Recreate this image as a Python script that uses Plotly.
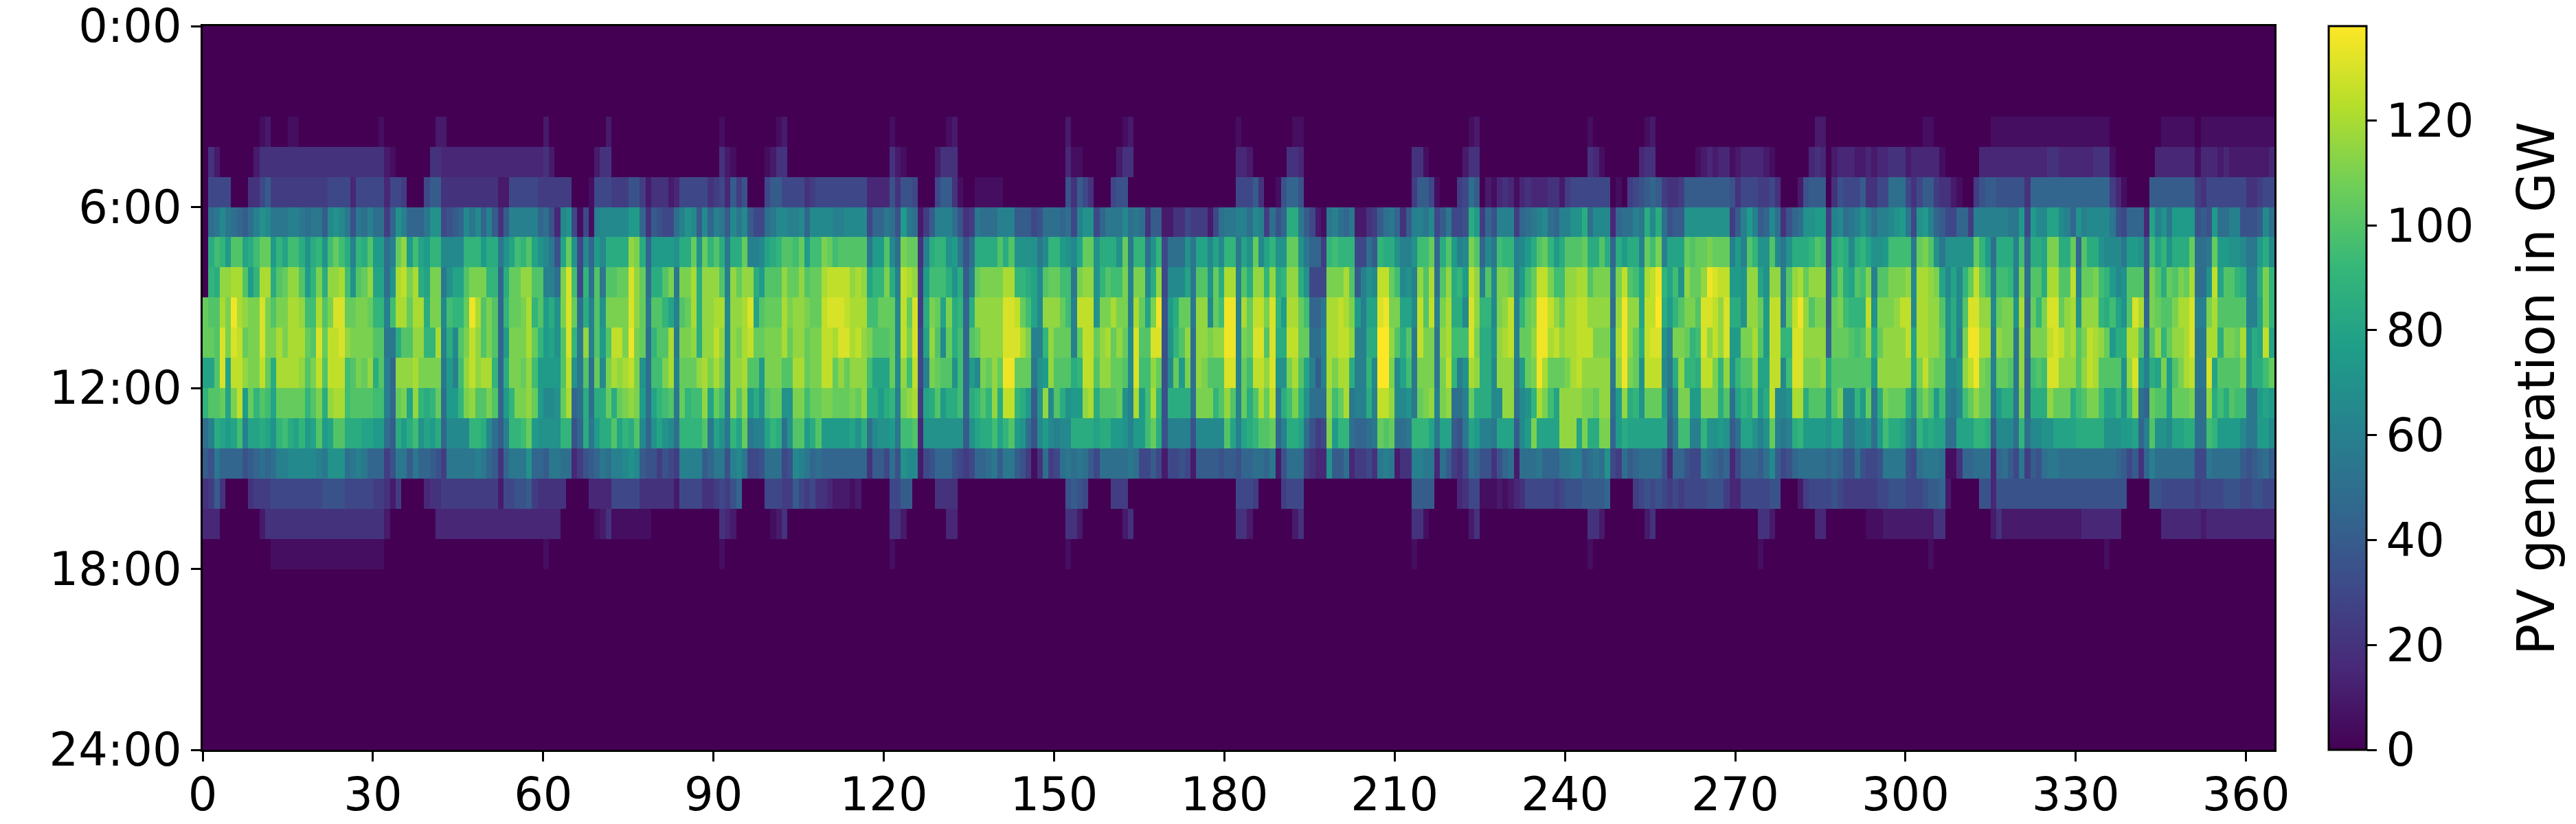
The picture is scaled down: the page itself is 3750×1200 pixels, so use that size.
import plotly.graph_objects as go

# Each character is one day, in steps of 5 GW: 0=0, 1=5 ... 9=45, a=50 ... s=140
LEVELS = "0123456789abcdefghijklmnopqrs"

hour_03 = ("0000000000 1200011000 0000000000 0100000000 0220000000 0000000000 2000000000 0200000000 0000000000 "
           "0100000000 0120000000 0000000000 0100000000 0120000000 0000000000 0020000000 0012000000 0000000000 "
           "0010000000 0011000000 0000000000 0000000000 0001200000 0000000000 0000100000 0000120000 0000000000 "
           "0000000000 0000220000 0000000000 0001100000 0000011111 1111111111 1111110000 0000011111 1011111111 11111")
hour_04 = ("0420000002 4444444444 4444444444 4421000000 4433333333 3333333333 4200000002 4400000000 0000000000 "
           "0421000001 2440000000 0000000000 0421000002 4440000000 0000000000 0031100000 0244000000 0000000000 "
           "0033200000 0443000000 0000000000 0004410000 0024400000 0000000000 0000431000 0003440000 0001232331 "
           "2333321000 0003430233 3223233444 2333331000 0003333333 3333344333 3334441000 0000333333 3133323222 22223")
hour_05 = ("0666600044 6855555555 5566663666 6636650006 8844444444 4422666665 5555500016 6655577524 4423666664 "
           "5638570006 8866664566 6666666333 3747760006 8841001111 1000000000 0074864000 6770000000 0000000000 "
           "0066684001 7997000000 0000000000 0005886100 056a802134 3134333442 5666666601 0567898544 5888888887 "
           "4666556400 0278880476 6684466aaa 6468854421 0057887777 7499999999 9999995310 0008888888 8546666666 44566")
hour_06 = ("0abdba98ac edbbbccbab b8dedb7bac aa59ec999b ee6789dbd9 c848ccccc9 a73de6161c dddddff948 766aced8d9 "
           "cb8dbd866a bddccd9ddd dccdddd699 ba7fba258c cca745baaa ccc88867aa a9a6cee69b bbdaba4882 244655526a "
           "bbccadc5a7 9hhb8621bc a9b22458ab 948ccbd68b 667hf597cc c59abcda9c ceehaddd39 aacbhdha78 8eeeeeeee5 "
           "8cfc89da47 9aeeff5cda bcecaccdef b6efc98669 95ccccccbb f6fddggdc9 ecddddb769 993gcebfff f787faacc7 778da")
hour_07 = ("0hjifkkghj llfigjjheh iejljhcihk ffaclnfjgf iiddddiiif hhbegjikge db7gle6d9f dhhhhnmh9f fffehhleli "
           "khbhhlccdg hikkjlfjjm ljkkkkkbff kdamll4chi iefb7ahhhh khkeeeebdi ifedgllehh helbiiaei6 aaaebggdgd "
           "iibgeldgie elleb995ij iii66a8ihh eccejjl9hk fcdmk9dbji icdfhklifh kkklhhkh9h fhhcljmcgg glkllmlllc "
           "fckieekdbe hhhikj6hih dhigeefjjj jblmkebeee eelifahhhc j9hhgmmhhl 9khhedddbf fe8jgiehhh laablffeed bbfhd")
hour_08 = ("0ihnnookfi oohklnnkfi mhnnojekln ggaeopmohg mmbeggkmmm ii9hllnnkk ccamqj6iak bkkllqnlah hkmbmmohnn "
           "nkcnlnnhfk kknllnkllo ppppnongii mhcpon5fjj jheh8clmmm mooiihgdkl ljjbmnneik jjmcmmdhn6 dddgbkkelh "
           "oockhnninh innhe666mm mok8cedppl jdecnkoakn hifpnckdmm lcfjlppmjj nnookmmmbm pkjgoprigj enllnrqppf "
           "fenngennck nolnnn8ilh gkjmckkmmm ndoonmgdgd ilpljcjjic makkhookkp cllmjifdek kk8mkhlkml oaaepgkkih cchmi")
hour_09 = ("lkkomronmm qmkmmoonjj okmqqllmml iicjoolooh mmdjiilrok mk9illmoik fhemqlahck emmmmqnlbk kigcklohnn "
           "oodnnoqgkl llomnnmllp qqqpooojjl lldplq5hml gmhi9hnnnn nqqpljgdnn nljcpppemm ommcolgmr7 fhllbnndlj "
           "rrcolppmqi foolj99boo pomfcggqrm mggdpkpcmo hhdqniidmn pcilmrrpnl ooppnnnnan rnngppshfi kmmkqqpnqh "
           "hennlfppcl prnkmm8lmj iiipemmmnp pdoonnkehd kqqnndlmme o9limqqlno ennnihjgek qo9mlkkmoo qccmokkkkk ccgmi")
hour_10 = ("llkqmqplmm qmmomooolk qlppqnmmmm kkbbhkknni iochdkmpnk mk9fmmmoli fgekqibnck fkppmrmlai kkobmmnhnn "
           "pndnmopllm mmolnnlmmp poqqopnmkk kldpmq6gnk dlhj9klnnn nqqqomccin lllclpplno lnldqkkqq7 eiknannmnn "
           "rrcmlqqkqh hppllaacoo ppncchhssn khkbpmmbno jjjqmhheno pcllnrropn oopppmmmco rnlhpqqecm mlijqnpnqf "
           "fmmokfppii qqnnnn9lll kjknhlnnnn pgoonnlehc mrroocnmmb nammmpqpno kmponlfhho okbknilnno qbboohmmlo ehgpg")
hour_11 = ("ggkqgppnmm plhoooonkm pkpppjkmln hkc9nnnomm mmbfcjnpno oi9hmmlnjf fffkpebkal dmonopmeaj jmoclllnom "
           "omdnnokkfm mmkkoolmmp plnlnnnjgg gldnjp6cml kkej9fdmln lrrlllbefn kkkhippknn llkdqjjnl7 dlfmanmkkk "
           "qqcljppnqe emokgc8com oohccidssm dgjbmmmbmp iceonhhdnn nbflmrolll mopnnnnnbn rmlepppdbh niihppmine "
           "ikknggppdj qqmmmnhkkk kkkkfnnnnn ngmpmlldde nprmlcllkb n9jkjqqnnn knpokkkken qfchgmfkmo pbbqgkkkkm ehhjl")
hour_12 = ("ikklgmpfli kjglllllik mhnoojkkkk jjc9lmgnih ilaffimnkk mk9fimmnlf ddelo9ahah hlhlmnmfag ijkblijjng "
           "ljcnknfhek lleemmjllm mlllmlnhhf hicmno5ghk fhhj9hikin hppihf8end kheffnohkk klecofjoi7 hhhhammmik "
           "nkclhkolpb hjmieaaanj lobcchcppn ddeblmncmn aaclhhhddn nadeiomjgn nnnmmlnnaf nhielllf9d mmffmmmhka "
           "gihlfhpdde oohkkkfkmd diflbhmlll hdkmkfjcbd jlnllbfhhb m9hhhnlllh jkmmjggiej na9lkkflll maanhjhkjj bbfgf")
hour_13 = ("achgfgjcgg hgeijhgifg kfgkkhhhgg ffa8hfhjeg fh9ddddiih da8ciijlfe eeeii79hbf hhkgihkd9e gedaiiiikb "
           "gebiglbccg ihaekkfhkf ffffgehade efbjjk3eee eeee8eghhj gikfea7dfd cddhhhhghh ffecffjlh7 cccc7ddddd "
           "kgcghikkl9 chhga756mf iia99ablkl aabiiigbgg 87bgfccbgg g8dfmggggn nngmhhmm9f hggggggg8b jjccieefe8 "
           "aggecelcbc hiffffeggb bddeafjhhg dbighggaag ggiih8ddda iaddeegggg hhhhheeeff g9ckeedggh haajiffffd bbffd")
hour_14 = ("87b9999789 a9accddddd cbeeeabcb9 9957bb8b99 875bbbbbcb 9849bbbe99 8bbaa35789 baccded877 5765cccc89 "
           "bb7cdb667a aa67dcb9a9 9999999488 6a7edd2679 99765699ab 8bb87514a5 6ababa86aa aaaba66862 6676288887 "
           "88799aa9b2 7aaa5433e8 8a35564bcb 244ccbb3a8 546a977479 a2aaab999b bcc9abae65 a89aaaa739 9766ba9893 "
           "69998ad867 9aaaaa9a97 7a7667bbbb 76abbba114 99aaa39a86 b587abbaaa aaaaaaa986 849caaaaaa a66baaaaa8 789a8")
hour_15 = ("4584000045 5566666666 6777766666 5542500003 4455555555 5526677854 4444000033 3366666444 4442666644 "
           "5657900006 6655865644 3222120000 0668800004 4440000000 0000000000 0078760000 5550000000 0000000000 "
           "0066650000 5666000000 0000000000 0008888000 0346611121 2346666656 7778888900 0056767656 5666677753 "
           "3666667700 0256666765 5555566777 6667889200 0007737777 7777777777 7777777770 0007766666 6566667776 67766")
hour_16 = ("3330000000 2444444444 4444444444 4420000000 0333333333 3333333333 3330000001 2411111110 0000000000 "
           "0432000000 1240000000 0000000000 0442000000 0330000000 0000000000 0044200000 0024000000 0000000000 "
           "0044200000 0024000000 0000000000 0004410000 0002400000 0000000000 0000442000 0000240000 0000000000 "
           "0000442000 0000330000 0001112222 2222244000 0000024222 2222222222 2333333300 0000033333 3323333333 33333")
hour_17 = ("0000000000 0011111111 1111111111 1100000000 0000000000 0000000000 1000000000 0000000000 0000000000 "
           "0100000000 0000000000 0000000000 0100000000 0000000000 0000000000 0010000000 0000000000 0000000000 "
           "0000000000 0000000000 0000000000 0001000000 0000000000 0000000000 0000100000 0000000000 0000000000 "
           "0000100000 0000000000 0000000000 0000100000 0000000000 0000000000 0000010000 0000000000 0000000000 00000")

read_rows = {3: hour_03, 4: hour_04, 5: hour_05, 6: hour_06, 7: hour_07, 8: hour_08, 9: hour_09, 10: hour_10,
             11: hour_11, 12: hour_12, 13: hour_13, 14: hour_14, 15: hour_15, 16: hour_16, 17: hour_17}

y_tick_values = [0, 6, 12, 18, 24]
y_tick_labels = ["0:00", "6:00", "12:00", "18:00", "24:00"]
x_tick_values = list(range(0, 361, 30))
bar_ticks = [0, 20, 40, 60, 80, 100, 120]
days = [d + 0.5 for d in range(365)]
hours = [h + 0.5 for h in range(24)]
MAX_GW = 138


def decode(hour, text):
    groups = text.split()
    if len(groups) != 37:
        raise ValueError(f"hour {hour}: {len(groups)} groups")
    for i, g in enumerate(groups):
        want = 5 if i == 36 else 10
        if len(g) != want:
            raise ValueError(f"hour {hour} group {i} {g!r}: {len(g)} chars")
    return [LEVELS.index(c) * 5 for c in "".join(groups)]


z = []
for h in range(24):
    z.append(decode(h, read_rows[h]) if h in read_rows else [0] * 365)

FONT = "DejaVu Sans"
fig = go.Figure(go.Heatmap(
    x=days, y=hours, z=z, zmin=0, zmax=MAX_GW, colorscale="Viridis",
    hoverinfo="skip",
    colorbar=dict(
        x=1.0262, xanchor="left", xref="paper", y=0, yanchor="bottom", yref="paper",
        len=1, lenmode="fraction", thickness=55, thicknessmode="pixels",
        outlinecolor="black", outlinewidth=3, xpad=0, ypad=0,
        tickmode="array", tickvals=bar_ticks, ticks="outside", ticklen=14, tickwidth=3, tickcolor="black",
        tickfont=dict(family=FONT, size=67, color="black"),
    ),
))
fig.update_xaxes(range=[0, 365], tickmode="array", tickvals=x_tick_values, ticks="outside", ticklen=14, tickwidth=3,
                 tickcolor="black", showline=True, linecolor="black", linewidth=3, mirror=True, showgrid=False,
                 zeroline=False, tickfont=dict(family=FONT, size=67, color="black"), tickangle=0,
                 ticklabeloverflow="allow", ticklabelstandoff=-9)
fig.update_yaxes(range=[24, 0], tickmode="array", tickvals=y_tick_values, ticktext=y_tick_labels, ticks="outside",
                 ticklen=14, tickwidth=3, tickcolor="black", showline=True, linecolor="black", linewidth=3, mirror=True,
                 showgrid=False, zeroline=False, tickfont=dict(family=FONT, size=67, color="black"),
                 ticklabeloverflow="allow")
fig.add_annotation(text="PV generation in GW", xref="paper", yref="paper", x=1.1263, y=0.5, xanchor="center",
                   yanchor="middle", textangle=-90, showarrow=False, font=dict(family=FONT, size=75, color="black"))
fig.update_layout(width=3750, height=1200, margin=dict(l=287, r=447, t=30, b=116, autoexpand=False),
                  paper_bgcolor="white", plot_bgcolor="white")
fig.write_html("out.html")
